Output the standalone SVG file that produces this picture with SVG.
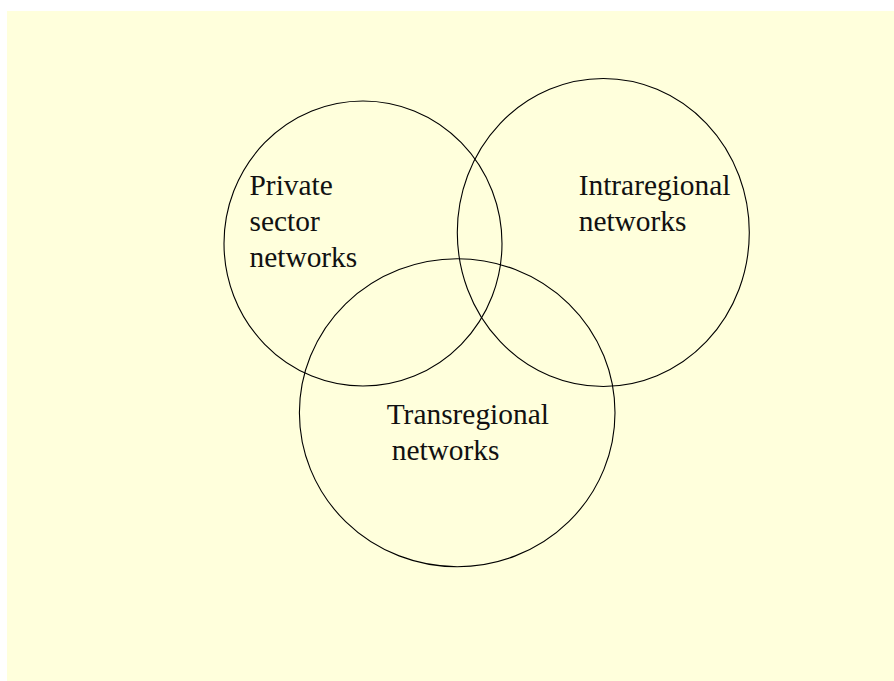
<svg xmlns="http://www.w3.org/2000/svg" width="894" height="681" viewBox="0 0 894 681">
  <style>
    .ring { fill: none; stroke: #000; stroke-width: 1.1; }
    .label { font-family: "Liberation Serif", "Times New Roman", serif; font-size: 29.4px; fill: #111; }
  </style>
  <rect x="0" y="0" width="894" height="681" fill="#ffffff"/>
  <rect x="7" y="11" width="887" height="670" fill="#ffffdc"/>

  <g id="private-sector">
    <ellipse class="ring" cx="363" cy="243.5" rx="139" ry="142.5"/>
    <text class="label" x="249.5" y="195">Private</text>
    <text class="label" x="249.5" y="231">sector</text>
    <text class="label" x="249.5" y="267">networks</text>
  </g>

  <g id="intraregional">
    <ellipse class="ring" cx="603.3" cy="232.5" rx="146" ry="154"/>
    <text class="label" x="578.7" y="194.5">Intraregional</text>
    <text class="label" x="578.7" y="230.5">networks</text>
  </g>

  <g id="transregional">
    <ellipse class="ring" cx="457.2" cy="412.7" rx="157.8" ry="154"/>
    <text class="label" x="386.7" y="423.5">Transregional</text>
    <text class="label" x="391.7" y="460">networks</text>
  </g>

  <g id="connectors"/>
</svg>
